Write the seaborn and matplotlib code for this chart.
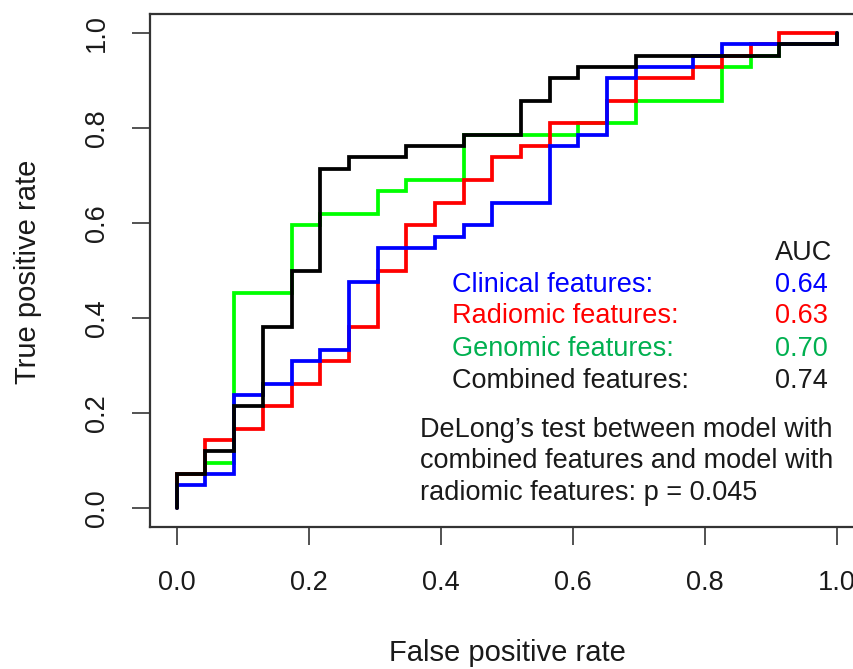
import numpy as np
import pandas as pd
import matplotlib
matplotlib.use("Agg")
import matplotlib.pyplot as plt
import seaborn as sns

# ---- data (ROC staircase vertices as counts of false / true positives) ----
n_neg = 23
n_pos = 42

clinical_fp = [0, 0, 1, 1, 2, 2, 3, 3, 4, 4, 5, 5, 6, 6, 7, 7, 9, 9, 10, 10, 11, 11, 13, 13,
               14, 14, 15, 15, 16, 16, 18, 18, 19, 19, 23, 23]
clinical_tp = [0, 2, 2, 3, 3, 10, 10, 11, 11, 13, 13, 14, 14, 20, 20, 23, 23, 24, 24, 25, 25, 27, 27, 32,
               32, 33, 33, 38, 38, 39, 39, 40, 40, 41, 41, 42]

radiomic_fp = [0, 0, 1, 1, 2, 2, 3, 3, 4, 4, 5, 5, 6, 6, 7, 7, 8, 8, 9, 9, 10, 10, 11, 11, 12, 12,
               13, 13, 15, 15, 16, 16, 18, 18, 19, 19, 20, 20, 21, 21, 23]
radiomic_tp = [0, 3, 3, 6, 6, 7, 7, 9, 9, 11, 11, 13, 13, 16, 16, 21, 21, 25, 25, 27, 27, 29, 29, 31, 31, 32,
               32, 34, 34, 36, 36, 38, 38, 39, 39, 40, 40, 41, 41, 42, 42]

genomic_fp = [0, 0, 1, 1, 2, 2, 4, 4, 5, 5, 7, 7, 8, 8, 10, 10, 14, 14, 16, 16, 19, 19, 20, 20,
              21, 21, 23, 23]
genomic_tp = [0, 3, 3, 4, 4, 19, 19, 25, 25, 26, 26, 28, 28, 29, 29, 33, 33, 34, 34, 36, 36, 39, 39, 40,
              40, 41, 41, 42]

combined_fp = [0, 0, 1, 1, 2, 2, 3, 3, 4, 4, 5, 5, 6, 6, 8, 8, 10, 10, 12, 12, 13, 13, 14, 14,
               16, 16, 21, 21, 23, 23]
combined_tp = [0, 3, 3, 5, 5, 9, 9, 16, 16, 21, 21, 30, 30, 31, 31, 32, 32, 33, 33, 36, 36, 38, 38, 39,
               39, 40, 40, 41, 41, 42]

series_names = ["Clinical features:", "Radiomic features:", "Genomic features:", "Combined features:"]
auc_values = ["0.64", "0.63", "0.70", "0.74"]
tick_values = [0.0, 0.2, 0.4, 0.6, 0.8, 1.0]
tick_labels = ["0.0", "0.2", "0.4", "0.6", "0.8", "1.0"]
delong_lines = ["DeLong\u2019s test between model with",
                "combined features and model with",
                "radiomic features: p = 0.045"]

# ---- styling ----
sns.set_style("white")
plt.rcParams["font.family"] = ["Liberation Sans", "DejaVu Sans"]

W, H = 854, 669
fig = plt.figure(figsize=(W / 100, H / 100), dpi=100)
left_px, right_px, bottom_px, top_px = 150.3, 863.2, 527.0, 14.0
ax = fig.add_axes([left_px / W, 1 - bottom_px / H, (right_px - left_px) / W, (bottom_px - top_px) / H])

line_colors = ["#0000FF", "#FF0000", "#00FF00", "#000000"]
text_colors = ["#0000FF", "#FF0000", "#00B050", "#1a1a1a"]

curves = [
    (genomic_fp, genomic_tp, line_colors[2]),
    (radiomic_fp, radiomic_tp, line_colors[1]),
    (clinical_fp, clinical_tp, line_colors[0]),
    (combined_fp, combined_tp, line_colors[3]),
]
for fp, tp, col in curves:
    df = pd.DataFrame({"fpr": np.array(fp) / n_neg, "tpr": np.array(tp) / n_pos})
    sns.lineplot(data=df, x="fpr", y="tpr", sort=False, estimator=None, color=col,
                 linewidth=2.7, ax=ax, solid_joinstyle="miter")

ax.set_xlim(-0.04, 1.04)
ax.set_ylim(-0.04, 1.04)
ax.set_xlabel("")
ax.set_ylabel("")
ax.set_xticks(tick_values)
ax.set_xticklabels(tick_labels)
ax.set_yticks(tick_values)
ax.set_yticklabels(tick_labels, rotation=90, va="center")
for s in ax.spines.values():
    s.set_visible(True)
    s.set_color("#333333")
    s.set_linewidth(1.6)
ax.tick_params(axis="both", direction="out", length=13, width=1.3, color="#444444",
               labelsize=19.5, labelcolor="#1a1a1a", left=True, bottom=True)
ax.tick_params(axis="x", pad=18)
ax.tick_params(axis="y", pad=16)

fs = 19.5
# AUC block
ax.text(0.9065, 0.522, "AUC", fontsize=fs, color="#1a1a1a", ha="left", va="baseline")
row_y = [0.455, 0.389, 0.321, 0.253]
for name, val, col, yy in zip(series_names, auc_values, text_colors, row_y):
    ax.text(0.417, yy, name, fontsize=fs, color=col, ha="left", va="baseline")
    ax.text(0.9065, yy, val, fontsize=fs, color=col, ha="left", va="baseline")

for txt, yy in zip(delong_lines, [0.150, 0.084, 0.016]):
    ax.text(0.369, yy, txt, fontsize=fs, color="#1a1a1a", ha="left", va="baseline")

fig.text(507 / W, 1 - 653 / H, "False positive rate", fontsize=21, color="#1a1a1a",
         ha="center", va="center")
fig.text(28 / W, 1 - 272 / H, "True positive rate", fontsize=21, color="#1a1a1a",
         ha="center", va="center", rotation=90)

fig.savefig("out.png", dpi=100)
